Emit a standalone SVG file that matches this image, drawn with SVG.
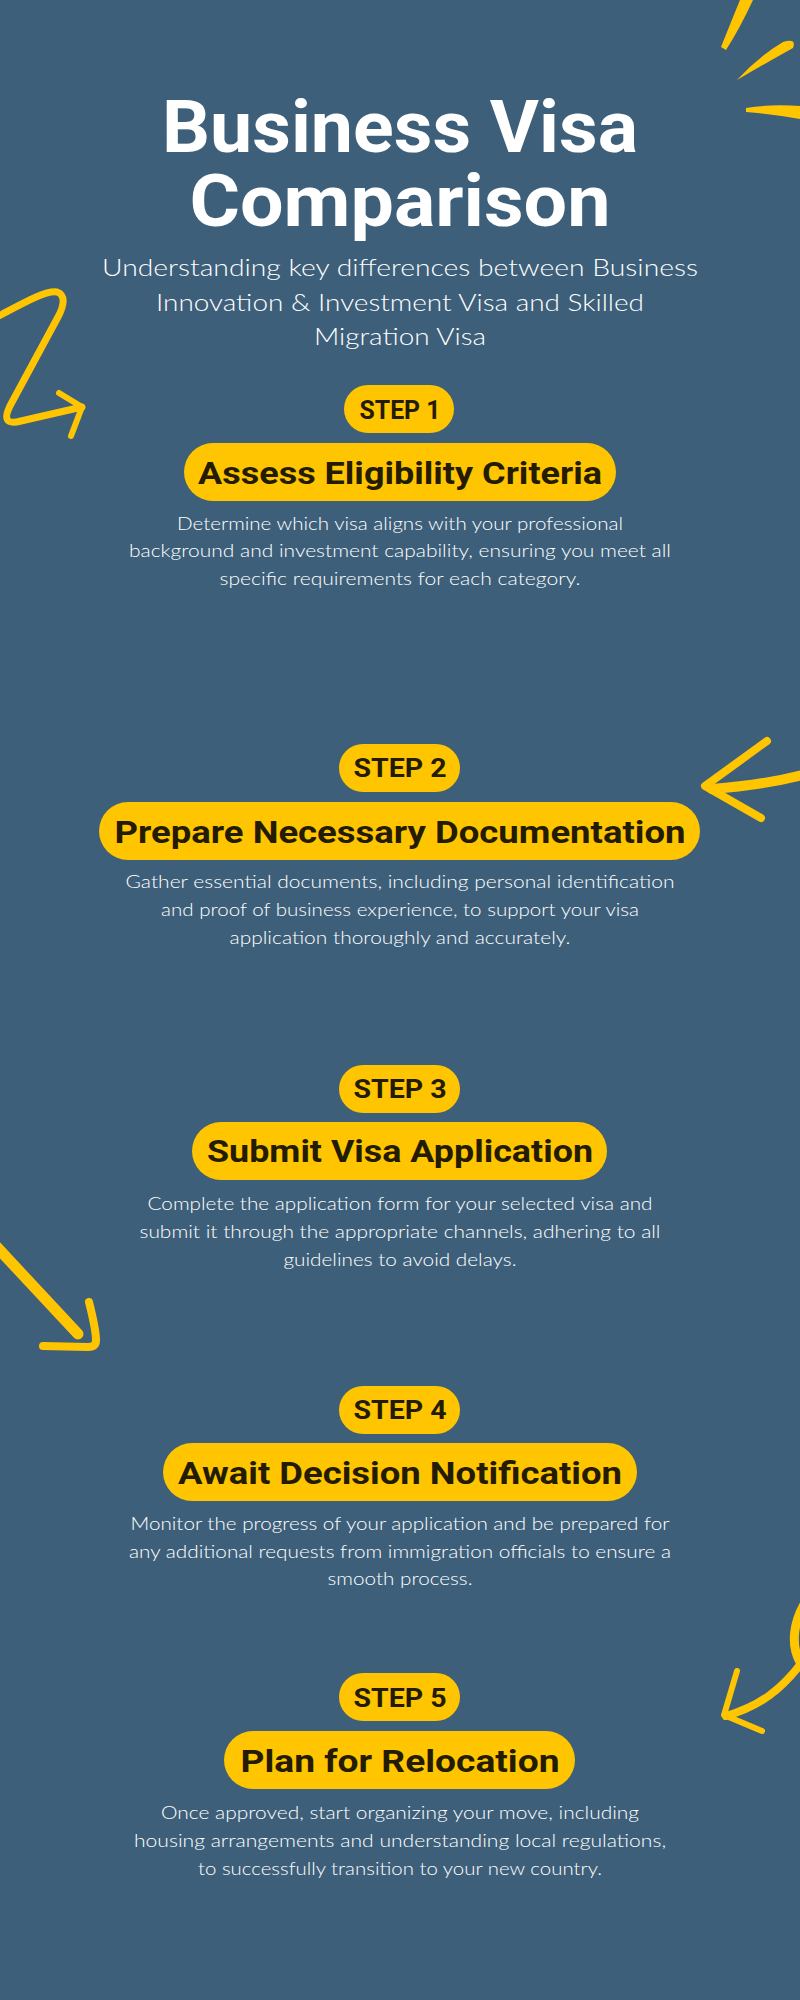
<svg xmlns="http://www.w3.org/2000/svg" width="800" height="2000" viewBox="0 0 800 2000">
<style>
.bg{fill:#3e5f7a}
.pill{fill:#ffc500}
.h1{font-family:Roboto,"Liberation Sans",sans-serif;font-weight:700;font-size:73px;fill:#ffffff;text-anchor:middle}
.sub{font-family:Lato,"Liberation Sans",sans-serif;font-weight:300;font-size:24px;fill:#ffffff;text-anchor:middle}
.step{font-family:Roboto,"Liberation Sans",sans-serif;font-weight:700;font-size:26px;fill:#241c00;text-anchor:middle}
.ttl{font-family:Roboto,"Liberation Sans",sans-serif;font-weight:700;font-size:32px;fill:#241c00;text-anchor:middle}
.body{font-family:Lato,"Liberation Sans",sans-serif;font-weight:300;font-size:18px;fill:#ffffff;text-anchor:middle}
.brush{fill:none;stroke:#ffc500;stroke-linecap:round;stroke-linejoin:round}
.blob{fill:#ffc500}
</style>
<rect class="bg" x="0" y="0" width="800" height="2000"/>

<g id="decorations">
  <path class="blob" d="M740,0 L753,0 Q740,28 726,50 L721,47 Q731,22 740,0Z"/>
  <path class="blob" d="M737,80 Q758,57 783,42 Q797,38 793,48 Q766,63 737,80Z"/>
  <path class="blob" d="M746,108 Q770,104 800,106 L800,119 Q772,114 746,112Z"/>
  <path class="brush" stroke-width="7" d="M-5,318 C20,305 45,290 57,292 C66,295 64,306 58,317 L11,404 C3,419 6,425 21,421 L82,407"/>
  <path class="brush" stroke-width="6" d="M59,393 L82,407 L71,436"/>
  <path class="brush" stroke-width="10" d="M806,774 Q765,785 712,789"/>
  <path class="brush" stroke-width="8" d="M767,741 L705,786 L761,818"/>
  <path class="brush" stroke-width="11" d="M-6,1244 L78,1334"/>
  <path class="brush" stroke-width="8" d="M89,1302 Q96,1330 96,1340 Q96,1347 88,1347 L43,1346"/>
  <path class="brush" stroke-width="9" d="M808,1598 C792,1622 791,1646 800,1662"/>
  <path class="brush" stroke-width="8" d="M806,1657 C782,1690 760,1706 726,1716"/>
  <path class="brush" stroke-width="6" d="M737,1671 L724,1715 L762,1731"/>
</g>

<g id="header">
  <text class="h1" x="400" y="152" textLength="476" lengthAdjust="spacingAndGlyphs">Business Visa</text>
  <text class="h1" x="400" y="226" textLength="421" lengthAdjust="spacingAndGlyphs">Comparison</text>
  <text class="sub" x="400" y="276" textLength="596" lengthAdjust="spacingAndGlyphs">Understanding key differences between Business</text>
  <text class="sub" x="400" y="311" textLength="488" lengthAdjust="spacingAndGlyphs">Innovation &amp; Investment Visa and Skilled</text>
  <text class="sub" x="400" y="345" textLength="172" lengthAdjust="spacingAndGlyphs">Migration Visa</text>
</g>

<g id="step1">
  <rect class="pill" x="344" y="385" width="110" height="48" rx="24"/>
  <text class="step" x="400" y="419" textLength="81" lengthAdjust="spacingAndGlyphs">STEP 1</text>
  <rect class="pill" x="184" y="443" width="432" height="58" rx="29"/>
  <text class="ttl" x="400" y="484" textLength="404" lengthAdjust="spacingAndGlyphs">Assess Eligibility Criteria</text>
  <text class="body" x="400" y="530" textLength="446" lengthAdjust="spacingAndGlyphs">Determine which visa aligns with your professional</text>
  <text class="body" x="400" y="557" textLength="542" lengthAdjust="spacingAndGlyphs">background and investment capability, ensuring you meet all</text>
  <text class="body" x="400" y="585" textLength="361" lengthAdjust="spacingAndGlyphs">specific requirements for each category.</text>
</g>

<g id="step2">
  <rect class="pill" x="339" y="744" width="121" height="48" rx="24"/>
  <text class="step" x="400" y="777" textLength="93" lengthAdjust="spacingAndGlyphs">STEP 2</text>
  <rect class="pill" x="99" y="802" width="601" height="58" rx="29"/>
  <text class="ttl" x="400" y="843" textLength="571" lengthAdjust="spacingAndGlyphs">Prepare Necessary Documentation</text>
  <text class="body" x="400" y="888" textLength="549" lengthAdjust="spacingAndGlyphs">Gather essential documents, including personal identification</text>
  <text class="body" x="400" y="916" textLength="478" lengthAdjust="spacingAndGlyphs">and proof of business experience, to support your visa</text>
  <text class="body" x="400" y="944" textLength="341" lengthAdjust="spacingAndGlyphs">application thoroughly and accurately.</text>
</g>

<g id="step3">
  <rect class="pill" x="339" y="1065" width="121" height="48" rx="24"/>
  <text class="step" x="400" y="1098" textLength="93" lengthAdjust="spacingAndGlyphs">STEP 3</text>
  <rect class="pill" x="192" y="1122" width="415" height="58" rx="29"/>
  <text class="ttl" x="400" y="1162" textLength="386" lengthAdjust="spacingAndGlyphs">Submit Visa Application</text>
  <text class="body" x="400" y="1210" textLength="505" lengthAdjust="spacingAndGlyphs">Complete the application form for your selected visa and</text>
  <text class="body" x="400" y="1238" textLength="521" lengthAdjust="spacingAndGlyphs">submit it through the appropriate channels, adhering to all</text>
  <text class="body" x="400" y="1266" textLength="233" lengthAdjust="spacingAndGlyphs">guidelines to avoid delays.</text>
</g>

<g id="step4">
  <rect class="pill" x="339" y="1386" width="121" height="48" rx="24"/>
  <text class="step" x="400" y="1419" textLength="93" lengthAdjust="spacingAndGlyphs">STEP 4</text>
  <rect class="pill" x="163" y="1443" width="474" height="58" rx="29"/>
  <text class="ttl" x="400" y="1484" textLength="444" lengthAdjust="spacingAndGlyphs">Await Decision Notification</text>
  <text class="body" x="400" y="1530" textLength="539" lengthAdjust="spacingAndGlyphs">Monitor the progress of your application and be prepared for</text>
  <text class="body" x="400" y="1558" textLength="542" lengthAdjust="spacingAndGlyphs">any additional requests from immigration officials to ensure a</text>
  <text class="body" x="400" y="1585" textLength="145" lengthAdjust="spacingAndGlyphs">smooth process.</text>
</g>

<g id="step5">
  <rect class="pill" x="339" y="1673" width="121" height="48" rx="24"/>
  <text class="step" x="400" y="1707" textLength="93" lengthAdjust="spacingAndGlyphs">STEP 5</text>
  <rect class="pill" x="224" y="1731" width="351" height="58" rx="29"/>
  <text class="ttl" x="400" y="1772" textLength="319" lengthAdjust="spacingAndGlyphs">Plan for Relocation</text>
  <text class="body" x="400" y="1819" textLength="478" lengthAdjust="spacingAndGlyphs">Once approved, start organizing your move, including</text>
  <text class="body" x="400" y="1847" textLength="532" lengthAdjust="spacingAndGlyphs">housing arrangements and understanding local regulations,</text>
  <text class="body" x="400" y="1875" textLength="404" lengthAdjust="spacingAndGlyphs">to successfully transition to your new country.</text>
</g>
</svg>
